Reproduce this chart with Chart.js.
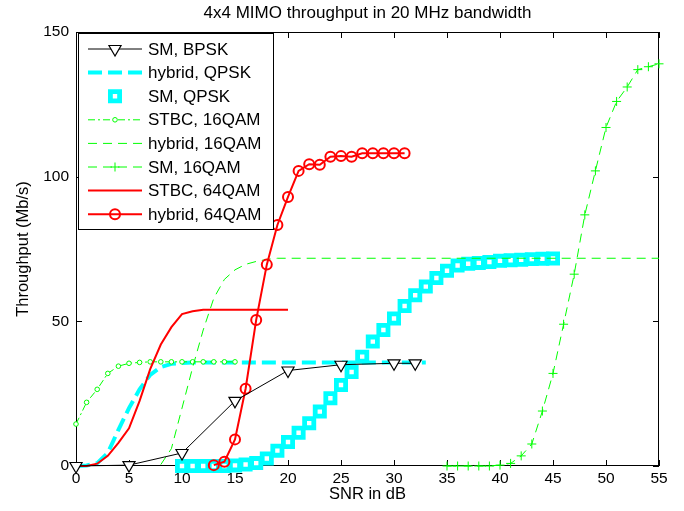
<!DOCTYPE html>
<html>
<head>
<meta charset="utf-8">
<script src="https://cdn.jsdelivr.net/npm/chart.js@4.4.1/dist/chart.umd.min.js"></script>
<style>
  html, body { margin: 0; padding: 0; background: #fff; }
</style>
</head>
<body>
<canvas id="mimoChart" width="684" height="511"></canvas>
<script>
// values (SNR in dB, throughput in Mb/s)
const snrBpsk = [0, 5, 10, 15, 20, 25, 30, 32];
const thrBpsk = [0, 0.3, 4.5, 22.5, 33, 35, 35.5, 35.5];

const snrHybQpsk = [0, 1, 2, 3, 4, 5, 6, 7, 8, 9, 10, 11, 12, 13, 14, 15, 16, 17, 18, 19, 20, 21, 22, 23, 24, 25, 26, 27, 28, 29, 30, 31, 32, 33];
const thrHybQpsk = [0, 0.2, 1, 4.5, 12.5, 20, 26.5, 31.5, 34.2, 35.3, 35.6, 35.8, 35.8, 35.8, 35.8, 35.8, 35.8, 35.8, 35.8, 35.8, 35.8, 35.8, 35.8, 35.8, 35.8, 35.8, 35.8, 35.8, 35.8, 35.8, 35.8, 35.8, 35.8, 35.8];

const snrSmQpsk = [10, 11, 12, 13, 14, 15, 16, 17, 18, 19, 20, 21, 22, 23, 24, 25, 26, 27, 28, 29, 30, 31, 32, 33, 34, 35, 36, 37, 38, 39, 40, 41, 42, 43, 44, 45];
const thrSmQpsk = [0, 0, 0, 0, 0, 0.2, 0.5, 1, 2.6, 5.3, 8.3, 11.5, 14.8, 18.8, 23.4, 28, 32.5, 37.8, 43, 47, 51, 55.3, 59, 62, 65, 67.5, 69.3, 69.9, 70.2, 70.5, 70.9, 71.1, 71.3, 71.5, 71.6, 71.7];

const snrStbc16 = [0, 1, 2, 3, 4, 5, 6, 7, 8, 9, 10, 11, 12, 13, 14, 15];
const thrStbc16 = [14.5, 22, 26.5, 32, 34.5, 35.5, 35.8, 36, 36, 36, 36, 36, 36, 36, 36, 36];

const snrHyb16 = [8, 9, 10, 11, 12, 13, 14, 15, 16, 17, 18, 19, 55];
const thrHyb16 = [0.5, 6, 20, 34, 47, 58, 64.5, 67.8, 69.7, 70.7, 71.4, 71.8, 71.8];

const snrSm16 = [35, 36, 37, 38, 39, 40, 41, 42, 43, 44, 45, 46, 47, 48, 49, 50, 51, 52, 53, 54, 55];
const thrSm16 = [0, 0, 0, 0, 0, 0.3, 0.9, 3.5, 7.6, 19, 32, 49, 66.3, 86.8, 102, 117, 126, 131, 137, 138, 139];

const snrStbc64 = [0, 1, 2, 3, 4, 5, 6, 7, 8, 9, 10, 11, 12, 13, 14, 15, 16, 17, 18, 19, 20];
const thrStbc64 = [0, 0, 0.8, 3.5, 8, 13, 22.5, 33.5, 42, 48, 52.5, 53.5, 54, 54, 54, 54, 54, 54, 54, 54, 54];

const snrHyb64 = [13, 14, 15, 16, 17, 18, 19, 20, 21, 22, 23, 24, 25, 26, 27, 28, 29, 30, 31];
const thrHyb64 = [0.3, 1.5, 9.2, 26.7, 50.5, 69.6, 83.3, 93, 102, 104.3, 104.1, 106.9, 107.1, 106.9, 108.1, 108.1, 108.1, 108.1, 108.1];

const xTicksStep = 5;
const yTicksStep = 50;

const pts = (xs, ys) => xs.map((v, i) => ({ x: v, y: ys[i] }));

const CYAN = '#00ffff', GREEN = '#00ff00', RED = '#ff0000';
const FONT = "'Liberation Sans', Arial, Helvetica, sans-serif";
Chart.defaults.font.family = FONT;
Chart.defaults.color = '#000';

// matlab-ish box: frame with inward ticks on all four sides + legend in the corner
const matlabBox = {
  id: 'matlabBox',
  beforeDatasetsDraw(chart) {
    const { ctx, chartArea: a, scales: { x, y } } = chart;
    ctx.save();
    ctx.strokeStyle = '#000';
    ctx.lineWidth = 1;
    ctx.setLineDash([]);
    ctx.strokeRect(a.left + 0.5, a.top + 0.5, a.right - a.left - 1, a.bottom - a.top - 1);
    ctx.beginPath();
    x.ticks.forEach(t => {
      const px = Math.round(x.getPixelForValue(t.value)) + 0.5;
      ctx.moveTo(px, a.bottom); ctx.lineTo(px, a.bottom - 6);
      ctx.moveTo(px, a.top); ctx.lineTo(px, a.top + 6);
    });
    y.ticks.forEach(t => {
      const py = Math.round(y.getPixelForValue(t.value)) + 0.5;
      ctx.moveTo(a.left, py); ctx.lineTo(a.left + 6, py);
      ctx.moveTo(a.right, py); ctx.lineTo(a.right - 6, py);
    });
    ctx.stroke();
    ctx.restore();
  },
  afterDraw(chart) {
    const { ctx, chartArea: a } = chart;
    const sets = chart.data.datasets;
    const boxL = a.left + 2, boxT = a.top + 1, boxW = 195, boxH = 196;
    ctx.save();
    ctx.fillStyle = '#fff';
    ctx.fillRect(boxL, boxT, boxW, boxH);
    ctx.strokeStyle = '#000';
    ctx.lineWidth = 1;
    ctx.strokeRect(boxL + 0.5, boxT + 0.5, boxW, boxH);
    sets.forEach((ds, i) => {
      const cy = boxT + 16 + i * 23.6;
      if (ds.showLine !== false) {
        ctx.beginPath();
        ctx.setLineDash(ds.borderDash || []);
        ctx.strokeStyle = ds.borderColor;
        ctx.lineWidth = ds.borderWidth;
        ctx.moveTo(boxL + 10, cy);
        ctx.lineTo(boxL + 64, cy);
        ctx.stroke();
      }
      if (ds.pointRadius > 0) {
        ctx.setLineDash([]);
        ctx.fillStyle = ds.pointBackgroundColor;
        ctx.strokeStyle = ds.pointBorderColor;
        ctx.lineWidth = ds.pointBorderWidth;
        Chart.helpers.drawPoint(ctx, {
          pointStyle: ds.pointStyle,
          rotation: ds.pointRotation || 0,
          radius: ds.pointRadius,
          borderWidth: ds.pointBorderWidth
        }, boxL + 37, cy);
      }
      ctx.setLineDash([]);
      ctx.fillStyle = '#000';
      ctx.font = '17px ' + FONT;
      ctx.textBaseline = 'middle';
      ctx.textAlign = 'left';
      ctx.fillText(ds.label, boxL + 70, cy + 1);
    });
    ctx.restore();
  }
};

new Chart(document.getElementById('mimoChart'), {
  type: 'line',
  data: {
    datasets: [
      { label: 'SM, BPSK', data: pts(snrBpsk, thrBpsk), order: 0,
        borderColor: '#000', borderWidth: 1,
        pointStyle: 'triangle', pointRotation: 180, pointRadius: 7,
        pointBorderColor: '#000', pointBackgroundColor: '#fff', pointBorderWidth: 1.2 },
      { label: 'hybrid, QPSK', data: pts(snrHybQpsk, thrHybQpsk), order: 7,
        borderColor: CYAN, borderWidth: 4, borderDash: [14, 6], pointRadius: 0 },
      { label: 'SM, QPSK', data: pts(snrSmQpsk, thrSmQpsk), order: 6, showLine: false,
        borderColor: CYAN, borderWidth: 0,
        pointStyle: 'rect', pointRadius: 6.5,
        pointBorderColor: CYAN, pointBackgroundColor: '#fff', pointBorderWidth: 4.8 },
      { label: 'STBC, 16QAM', data: pts(snrStbc16, thrStbc16), order: 5,
        borderColor: GREEN, borderWidth: 1, borderDash: [7, 3, 2, 3],
        pointStyle: 'circle', pointRadius: 2.3,
        pointBorderColor: GREEN, pointBackgroundColor: '#fff', pointBorderWidth: 1 },
      { label: 'hybrid, 16QAM', data: pts(snrHyb16, thrHyb16), order: 4,
        borderColor: GREEN, borderWidth: 1, borderDash: [9, 6], pointRadius: 0 },
      { label: 'SM, 16QAM', data: pts(snrSm16, thrSm16), order: 3,
        borderColor: GREEN, borderWidth: 1, borderDash: [9, 6],
        pointStyle: 'cross', pointRadius: 4.5,
        pointBorderColor: GREEN, pointBackgroundColor: GREEN, pointBorderWidth: 1 },
      { label: 'STBC, 64QAM', data: pts(snrStbc64, thrStbc64), order: 2,
        borderColor: RED, borderWidth: 2, pointRadius: 0 },
      { label: 'hybrid, 64QAM', data: pts(snrHyb64, thrHyb64), order: 1,
        borderColor: RED, borderWidth: 2,
        pointStyle: 'circle', pointRadius: 5,
        pointBorderColor: RED, pointBackgroundColor: 'rgba(0,0,0,0)', pointBorderWidth: 2 }
    ].map(ds => Object.assign({ tension: 0, fill: false, clip: false, pointHoverRadius: ds.pointRadius }, ds))
  },
  options: {
    responsive: false,
    animation: false,
    devicePixelRatio: 1,
    layout: { padding: { left: 0, right: 25, top: 0, bottom: 0 } },
    plugins: {
      legend: { display: false },
      tooltip: { enabled: false },
      title: {
        display: true, fullSize: false,
        text: '4x4 MIMO throughput in 20 MHz bandwidth',
        font: { size: 17, weight: 'normal' }, color: '#000',
        padding: { top: 3, bottom: 8.6 }
      }
    },
    scales: {
      x: {
        type: 'linear', min: 0, max: 55,
        grid: { display: false, drawTicks: false }, border: { display: false },
        ticks: { stepSize: xTicksStep, padding: 3, font: { size: 15.5 }, color: '#000', maxRotation: 0 },
        title: { display: true, text: 'SNR in dB', font: { size: 16.5 }, color: '#000', padding: { top: 0, bottom: 7 } },
        afterFit: s => { s.height = 45; }
      },
      y: {
        type: 'linear', min: 0, max: 150,
        grid: { display: false, drawTicks: false }, border: { display: false },
        ticks: { stepSize: yTicksStep, padding: 7, font: { size: 15.5 }, color: '#000' },
        title: { display: true, text: 'Throughput (Mb/s)', font: { size: 16.5 }, color: '#000', padding: { top: 14, bottom: 0 } },
        afterFit: s => { s.width = 76; }
      }
    }
  },
  plugins: [matlabBox]
});
</script>
</body>
</html>
